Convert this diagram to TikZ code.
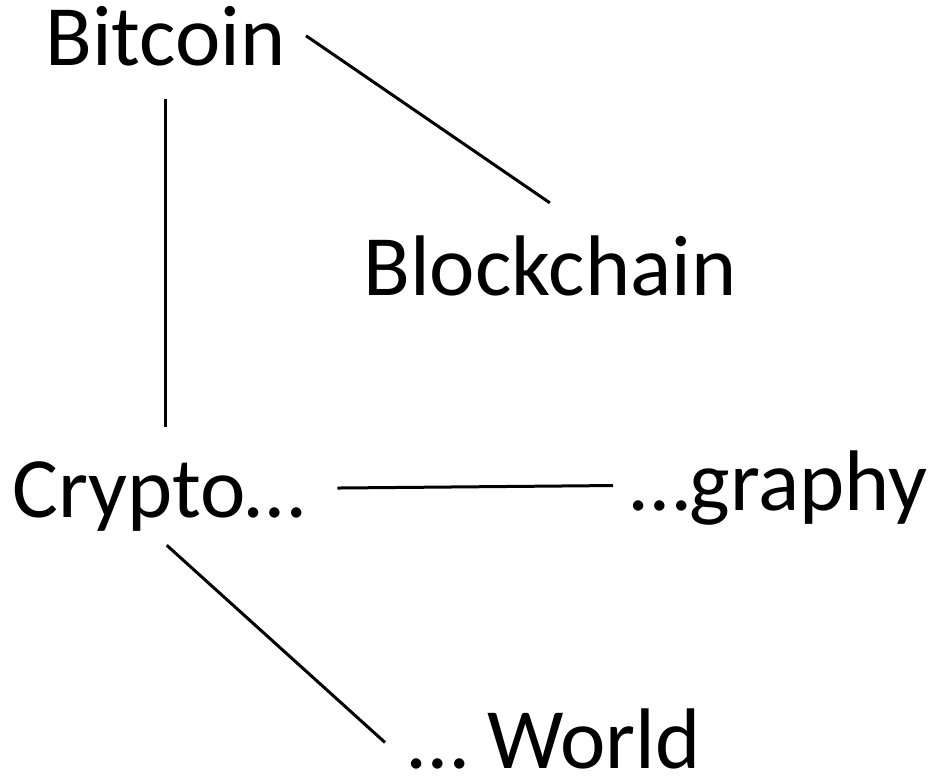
\documentclass[tikz,border=0pt]{standalone}
\usepackage{fontspec}
\setmainfont{Carlito}
\tikzset{
    term/.style={inner sep=0pt, anchor=base west, font=\fontsize{43}{52}\selectfont},
    link/.style={line width=1.5pt}
}
\begin{document}
\begin{tikzpicture}[x=0.5pt, y=-0.5pt]
    \useasboundingbox (0,0) rectangle (933,777);
    % the five words
    \node[term] (bitcoin) at (45,65) {Bitcoin};
    \node[term] (blockchain) at (363,295) {Blockchain};
    \node[term] (crypto) at (12,517) {Crypto…};
    \node[term] (graphy) at (630,510) {…graphy};
    \node[term] (world) at (408,768) {… World};
    % links between them
    \draw[link] ([xshift=10pt]bitcoin.east) -- ([yshift=16pt]blockchain.north);
    \draw[link] ([yshift=-16.5pt]bitcoin.south) -- ([yshift=17pt]bitcoin.south |- crypto.north);
    \draw[link] ([xshift=16pt,yshift=4pt]crypto.east) -- ([xshift=-8.5pt,yshift=1pt]graphy.west);
    \draw[link] ([xshift=4pt,yshift=-7pt]crypto.south) -- ([xshift=-11.5pt,yshift=-2pt]world.west);
\end{tikzpicture}
\end{document}
